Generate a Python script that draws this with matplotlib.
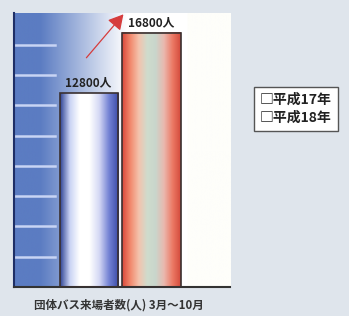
import matplotlib.pyplot as plt
import numpy as np
from matplotlib.colors import LinearSegmentedColormap, to_rgb

plt.rcParams["font.family"] = ["Noto Sans CJK JP", "DejaVu Sans"]

categories = ["平成17年", "平成18年"]
values = [12800, 16800]
value_labels = ["12800人", "16800人"]
grid_levels = [2000, 4000, 6000, 8000, 10000, 12000, 14000, 16000]
caption = "団体バス来場者数(人) 3月～10月"

bar_cmaps = [
    LinearSegmentedColormap.from_list(
        "blue_cyl",
        ["#2f4494", "#c9d3f4", "#ffffff", "#ffffff", "#d4d8f4", "#7382d4", "#3a4aa6"],
    ),
    LinearSegmentedColormap.from_list(
        "red_cyl",
        ["#d8483a", "#f28a6e", "#f4c3ad", "#cfdccd", "#c9d6cc", "#eab8ae", "#ec7a66", "#d44a3c"],
    ),
]


def main() -> None:
    fig = plt.figure(figsize=(3.49, 3.16), dpi=100)
    fig.patch.set_facecolor("#dfe5ec")
    ax = fig.add_axes([0.040, 0.092, 0.619, 0.867])
    x = np.arange(len(categories))
    ax.set_xlim(-1.2, 2.256)
    ax.set_ylim(0, 18100)

    # backdrop: blue panel fading to white towards the right
    xs = np.linspace(0, 1, 300)
    blue = np.array(to_rgb("#5b7cc2"))
    white = np.array(to_rgb("#ffffff"))
    cream = np.array(to_rgb("#fefefa"))
    t = np.clip((xs - 0.12) / 0.4, 0, 1)[:, None]
    row = blue * (1 - t) + white * t
    row = np.where(xs[:, None] > 0.8, cream, row)
    ax.imshow(row[None, :, :], extent=(-1.2, 2.256, 0, 18100), aspect="auto", zorder=0)

    # soft stripes on the blue panel
    for lv in grid_levels:
        ax.plot([-1.2, -0.55], [lv, lv], color="#c8d4f4", lw=1.8, zorder=1)

    bars = ax.bar(x, values, width=0.93, facecolor="none", edgecolor="#3a3030", lw=1.2, zorder=3)
    grad = np.linspace(0, 1, 256)[None, :]
    for bar, cmap in zip(bars, bar_cmaps):
        x0, y0 = bar.get_x(), bar.get_y()
        ax.imshow(grad, cmap=cmap, extent=(x0, x0 + bar.get_width(), y0, y0 + bar.get_height()),
                  aspect="auto", zorder=2)

    for xi, v, lab in zip(x, values, value_labels):
        ax.text(xi - 0.02 + 0.02 * xi, v + 250, lab, ha="center", va="bottom", fontsize=8.5,
                fontweight="bold", color="#222222", zorder=5)

    ax.annotate("", xy=(0.58, 18150), xytext=(-0.07, 15000), annotation_clip=False,
                arrowprops=dict(arrowstyle="-|>,head_length=0.9,head_width=0.5",
                                color="#d63c3c", lw=0.9), zorder=5)

    for side in ["top", "right"]:
        ax.spines[side].set_visible(False)
    ax.spines["left"].set_color("#1f2f66")
    ax.spines["left"].set_linewidth(1.5)
    ax.spines["bottom"].set_color("#333333")
    ax.spines["bottom"].set_linewidth(1.5)
    ax.set_xticks([])
    ax.set_yticks([])

    fig.text(0.34, 0.035, caption, ha="center", va="center", fontsize=8.3,
             fontweight="bold", color="#333333")
    fig.text(0.745, 0.655, "□平成17年\n□平成18年", ha="left", va="center", fontsize=10,
             fontweight="bold", color="#222222", linespacing=1.35,
             bbox=dict(boxstyle="square,pad=0.45", facecolor="#ffffff", edgecolor="#555555", lw=1.0))

    fig.savefig("out.png", dpi=100, facecolor=fig.get_facecolor())


if __name__ == "__main__":
    main()
